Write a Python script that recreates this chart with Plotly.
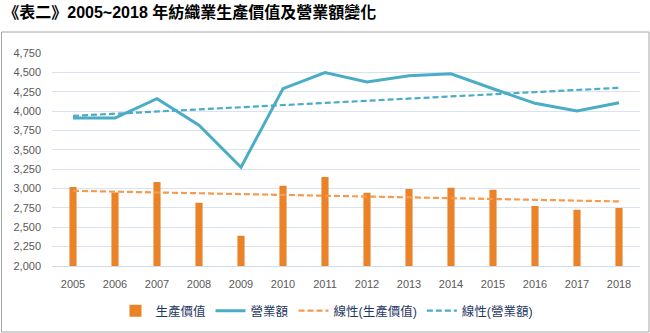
import numpy as np
import plotly.graph_objects as go

years = ["2005", "2006", "2007", "2008", "2009", "2010", "2011",
         "2012", "2013", "2014", "2015", "2016", "2017", "2018"]
production = [3020, 2950, 3085, 2815, 2390, 3035, 3150,
              2945, 2995, 3010, 2985, 2775, 2725, 2750]
revenue = [3912, 3910, 4160, 3818, 3275, 4290, 4498,
           4377, 4455, 4481, 4288, 4100, 4000, 4108]
y_ticks = [2000, 2250, 2500, 2750, 3000, 3250, 3500, 3750, 4000, 4250, 4500, 4750]

title_text = "《表二》2005~2018 年紡織業生產價值及營業額變化"

# linear trendlines (as Excel does) fitted to the series
t = np.arange(1, len(years) + 1)
p_fit = np.polyfit(t, production, 1)
r_fit = np.polyfit(t, revenue, 1)
prod_trend = np.polyval(p_fit, t)
rev_trend = np.polyval(r_fit, t)

W, H = 650, 333
L, R, T, B = 52, 10, 53, 67
pw, ph = W - L - R, H - T - B

def px_x(x):
    return (x - L) / pw

def px_y(y):
    return (H - B - y) / ph

tick_font = dict(family="Liberation Sans, Arial, sans-serif", size=11, color="#595959")
cjk = "Liberation Sans, Noto Sans CJK TC, sans-serif"

fig = go.Figure()
fig.add_trace(go.Bar(
    x=years, y=production, name="生產價值", width=0.17,
    marker=dict(color="#EA8228", line=dict(width=0)),
))
fig.add_trace(go.Scatter(
    x=years, y=revenue, name="營業額", mode="lines",
    line=dict(color="#4BACC6", width=3),
))
fig.add_trace(go.Scatter(
    x=years, y=prod_trend, name="線性(生產價值)", mode="lines",
    line=dict(color="#F79A4E", width=2.2, dash="6px,3px"),
))
fig.add_trace(go.Scatter(
    x=years, y=rev_trend, name="線性(營業額)", mode="lines",
    line=dict(color="#4BACC6", width=2.2, dash="6px,3px"),
))

fig.update_layout(
    width=W, height=H,
    margin=dict(l=L, r=R, t=T, b=B, autoexpand=False),
    paper_bgcolor="white", plot_bgcolor="white",
    showlegend=True,
    title=dict(text=title_text, x=0.005, xanchor="left", xref="container",
               y=1 - 12 / H, yanchor="middle", yref="container",
               font=dict(family=cjk, size=16, color="#000000", weight="bold")),
    legend=dict(orientation="h", x=px_x(327), xanchor="center", xref="paper",
                y=px_y(311), yanchor="middle", yref="paper",
                font=dict(family=cjk, size=12.5, color="#1F3864"),
                entrywidth=0, itemwidth=30, tracegroupgap=0,
                bgcolor="rgba(0,0,0,0)"),
    bargap=0.5,
    xaxis=dict(type="category", showgrid=False, ticks="", tickfont=tick_font,
               showline=True, linecolor="#D0DCEB", linewidth=1,
               tickangle=0, automargin=False, ticklabelstandoff=8),
    yaxis=dict(range=[2000, 4750], tickvals=y_ticks, tickformat=",",
               showgrid=True, gridcolor="#D9E2EF", gridwidth=1,
               zeroline=False, showline=False, ticks="", tickfont=tick_font,
               automargin=False, ticklabelstandoff=10),
    shapes=[dict(type="rect", xref="paper", yref="paper",
                 x0=px_x(1.5), x1=px_x(649), y0=px_y(332), y1=px_y(32),
                 line=dict(color="#A6A6A6", width=1), fillcolor="rgba(0,0,0,0)",
                 layer="below")],
)

fig.write_html("out.html")
